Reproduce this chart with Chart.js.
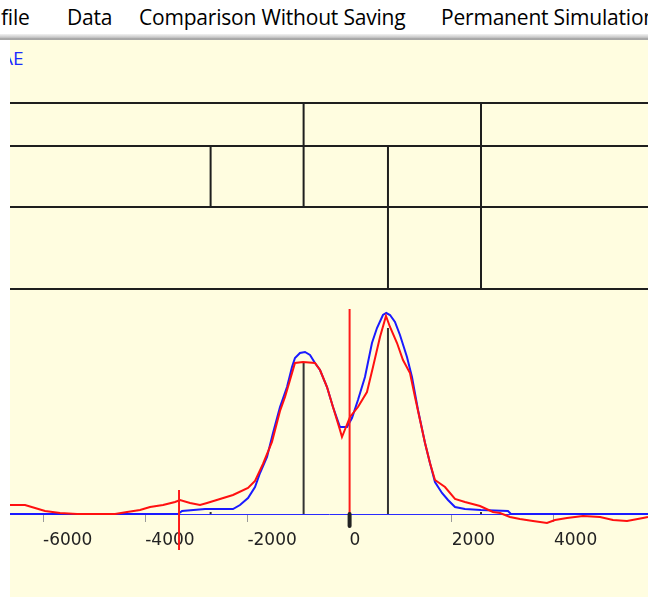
<!DOCTYPE html>
<html>
<head>
<meta charset="utf-8">
<script src="https://cdn.jsdelivr.net/npm/chart.js@4/dist/chart.umd.min.js"></script>
<style>
  html, body { margin: 0; padding: 0; background: #ffffff; width: 648px; height: 597px; overflow: hidden; }
  #menu { position: absolute; left: 0; top: 0; width: 648px; height: 35px; background: #ffffff; font-family: "Open Sans", sans-serif; font-size: 21px; color: #000; }
  #menu span { position: absolute; top: 3px; white-space: nowrap; letter-spacing: -0.2px; }
  #sep { position: absolute; left: 0; top: 34px; width: 648px; height: 6px; background: linear-gradient(#f2f2f2, #c8c8c8 55%, #9a9a9a 85%, #b8b8b8); }
  #panel { position: absolute; left: 10px; top: 40px; width: 638px; height: 557px; background: #fffde0; overflow: hidden; }
  #tag { position: absolute; left: -9px; top: 5px; font-family: "Open Sans", sans-serif; font-size: 19px; color: #1a2bff; }
  #c { position: absolute; left: 0; top: 0; }
</style>
</head>
<body>
<div id="menu">
  <span style="left:1px">file</span>
  <span style="left:67px">Data</span>
  <span style="left:139px">Comparison Without Saving</span>
  <span style="left:441px">Permanent Simulation</span>
</div>
<div id="sep"></div>
<div id="panel">
  <div id="tag">AE</div>
  <canvas id="c" width="638" height="557"></canvas>
</div>
<script>
// ---- data ----
const tickValues = [-6000, -4000, -2000, 0, 2000, 4000];

const redX = [-6646,-6352,-6156,-5960,-5667,-5334,-4590,-4355,-4101,-3905,-3651,-3416,-3318,-3122,-2927,-2790,-2536,-2282,-1988,-1851,-1695,-1519,-1362,-1264,-1166,-1069,-912,-677,-579,-442,-325,-188,-149,8,164,340,458,595,712,791,928,1045,1182,1280,1378,1476,1573,1671,1867,2063,2258,2552,2806,2943,3139,3334,3589,3863,4020,4255,4568,4901,5155,5429,5742,5840];
const redY = [4.5,4.5,3,1.5,0.5,0,0,1,2,3.5,4.5,6,7,5.5,4.5,5.5,7.5,9.5,13,16.5,25,36,51.5,58.5,67,75.5,76,75.5,72,63.5,53.5,42,38.5,48.5,53.5,61,73.5,88.5,99,93.5,85.5,77,70.5,58.5,47,35.5,25.5,17,13.5,7.5,6,4,1,0.5,-1.5,-2.5,-3.5,-4.5,-3,-2,-1,-1.5,-3,-3.5,-2,-1.5];

const blueX = [-6646,-3357,-3279,-2829,-2282,-2145,-1988,-1851,-1753,-1616,-1499,-1362,-1225,-1127,-1069,-971,-873,-775,-677,-579,-442,-325,-188,-51,47,164,301,438,536,653,718,791,888,986,1123,1221,1339,1476,1573,1671,1808,1926,2063,2258,2572,3100,3158,5840];
const blueY = [0,0,1.5,2.5,2.5,4.5,8,13.5,20.5,28.5,40.5,53.5,63.5,73.5,78,80.5,81,79.5,75.5,72,63.5,53.5,43.5,43.5,48,57,68.5,85.5,93,99.5,100.5,99.5,96,89.5,78.5,68.5,52,35.5,25.5,16,10.5,7,3.5,2.5,2,1.5,0,0];

// peak stems
const stemX = [-2720, -900, 751, 2572];
const stemH = [1, 76, 93, 1];

// red markers
const markerX = [0, -3338];
const markerTop = [102.5, 12];
const markerBottom = [0, -18];

// tree diagram (levels and joins)
const treeLevels = [205.5, 184, 153.5, 112.5];
const treeJoinX = [-900, 2572, -2720, 751];
const treeJoinTop = [205.5, 205.5, 184, 184];
const treeJoinBottom = [153.5, 112.5, 153.5, 112.5];

const xMin = -6646, xMax = 5840, yMin = -41.5, yMax = 237;

// ---- build datasets ----
const zip = (xs, ys) => xs.map((x, i) => ({ x: x, y: ys[i] }));
const seg = (pts, color, width, order, cap) => ({
  data: pts, borderColor: color, borderWidth: width, pointRadius: 0,
  showLine: true, fill: false, tension: 0, order: order, borderCapStyle: cap || 'butt'
});

const datasets = [];
datasets.push(seg(zip(redX, redY), '#ff1010', 2, 1));
datasets.push(seg(zip(blueX, blueY), '#1a1aff', 2, 2));
stemX.forEach((x, i) => datasets.push(seg([{x: x, y: 0}, {x: x, y: stemH[i]}], '#333333', 2, 4)));
markerX.forEach((x, i) => datasets.push(seg([{x: x, y: markerBottom[i]}, {x: x, y: markerTop[i]}], '#ff1a1a', 2, 0)));
datasets.push(seg([{x: 0, y: 0}, {x: 0, y: -6}], '#222222', 4, -1, 'round'));
treeLevels.forEach(l => datasets.push(seg([{x: xMin, y: l}, {x: xMax, y: l}], '#1e1e1e', 2, 5)));
treeJoinX.forEach((x, i) => datasets.push(seg([{x: x, y: treeJoinBottom[i]}, {x: x, y: treeJoinTop[i]}], '#1e1e1e', 2, 5)));

new Chart(document.getElementById('c'), {
  type: 'scatter',
  data: { datasets: datasets },
  options: {
    responsive: false,
    animation: false,
    devicePixelRatio: 1,
    layout: { padding: 0 },
    plugins: { legend: { display: false }, tooltip: { enabled: false } },
    scales: {
      x: {
        type: 'linear',
        min: xMin, max: xMax,
        position: { y: 0 },
        afterBuildTicks: s => { s.ticks = tickValues.map(v => ({ value: v })); },
        grid: { drawOnChartArea: false, drawTicks: true, tickLength: 7, color: '#9a9a9a', lineWidth: 1 },
        border: { display: true, color: '#2a2aff', width: 1 },
        ticks: { align: 'start', padding: 9, color: '#222222', autoSkip: false, maxRotation: 0,
                 callback: v => String(v),
                 font: { family: 'DejaVu Sans', size: 17 } }
      },
      y: { type: 'linear', min: yMin, max: yMax, display: false }
    }
  }
});
</script>
</body>
</html>
